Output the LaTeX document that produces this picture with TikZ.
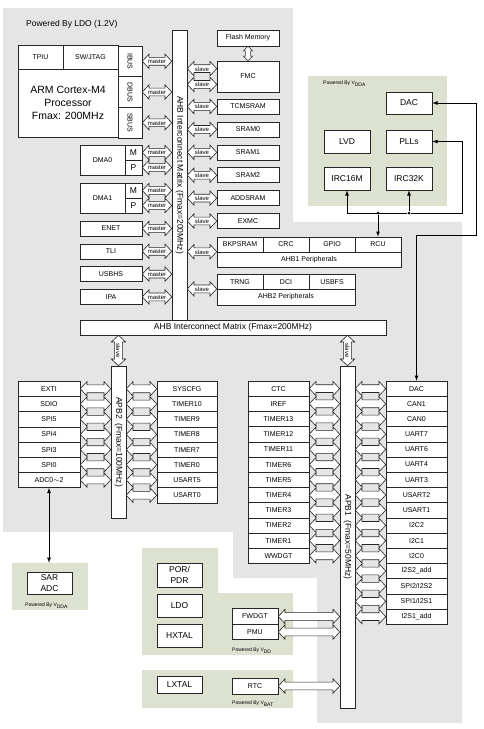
\documentclass[tikz,border=0pt]{standalone}
\usepackage{fontspec}
\setmainfont{Liberation Sans}
\usetikzlibrary{calc,positioning,shapes.arrows}
\definecolor{ldogray}{RGB}{229,229,229}
\definecolor{pwrgreen}{RGB}{221,225,207}
\newcommand{\Vsub}[1]{V\textsubscript{#1}}
\newcommand{\fsz}[2]{\fontsize{#1}{#2}\selectfont}
\tikzset{
  blk/.style={draw=black!85, line width=0.6pt, fill=white, inner sep=0pt, align=center, font=\fsz{7}{8.4}},
  bigblk/.style={blk, font=\fsz{8.5}{10.5}},
  bus/.style={double arrow, draw=black!85, line width=0.6pt, fill=white, inner xsep=0.3pt, inner ysep=1.2pt,
    text height=4.8pt, text depth=0pt, double arrow head extend=3.3pt, double arrow tip angle=94, font=\fsz{6}{6}},
  fat/.style={to path={let \p1=(\tikztostart), \p2=(\tikztotarget),
    \n1={veclen(\x2-(\x1),\y2-(\y1))}, \n2={atan2(\y2-(\y1),\x2-(\x1))} in
    node[bus, minimum height=\n1, rotate=\n2] at ($(\p1)!.5!(\p2)$) {#1}}},
  fat/.default={},
  pwrnote/.style={inner sep=0pt, font=\fsz{5}{6}},
  wire/.style={line width=0.8pt},
  dot/.style={circle, fill, inner sep=0pt, minimum size=3pt},
}
\begin{document}
\begin{tikzpicture}[x=1pt,y=-1pt]
  \useasboundingbox (0,0) rectangle (483,729);
  \fill[ldogray] (3,8) -- (293,8) -- (293,222) -- (462,222) -- (462,723) -- (317,723)
    -- (317,578) -- (233,578) -- (233,532) -- (3,532) -- cycle;
  \fill[pwrgreen] (308,76) rectangle (447,206);
  \fill[pwrgreen] (142,548) -- (218,548) -- (218,593) -- (293,593) -- (293,655) -- (142,655) -- cycle;
  \fill[pwrgreen] (142,670) rectangle (293,708);
  \node[fill=pwrgreen, minimum width=76pt, minimum height=47pt, inner sep=0pt] (SARreg) at (50,586.5) {};

  \node[anchor=west, inner sep=0pt, font=\fsz{8.5}{10}] (LDOnote) at (26,24) {Powered By LDO (1.2V)};
  \node[blk, minimum width=45pt, minimum height=24pt] (TPIU) at (40.5,57) {TPIU};
  \node[blk, minimum width=55pt, minimum height=24pt] (SWJ) at (90.5,57) {SW/JTAG};
  \node[blk, minimum width=100pt, minimum height=68pt, font=\fsz{10.5}{13}] (Core) at (68,103) {ARM Cortex-M4\\Processor\\Fmax: 200MHz};
  \node[blk, minimum width=24pt, minimum height=30.7pt] (IBus) at (130,61.3) {\rotatebox{-90}{IBUS}};
  \node[blk, minimum width=24pt, minimum height=30.7pt] (DBus) at (130,92) {\rotatebox{-90}{DBUS}};
  \node[blk, minimum width=24pt, minimum height=30.7pt] (SBus) at (130,122.7) {\rotatebox{-90}{SBUS}};

  \node[blk, minimum width=45pt, minimum height=30pt] (DMA0) at (102.5,160) {DMA0};
  \node[bigblk, minimum width=17pt, minimum height=15pt] (DMA0M) at (133.5,152.5) {M};
  \node[bigblk, minimum width=17pt, minimum height=15pt] (DMA0P) at (133.5,167.5) {P};
  \node[blk, minimum width=45pt, minimum height=30pt] (DMA1) at (102.5,198) {DMA1};
  \node[bigblk, minimum width=17pt, minimum height=15pt] (DMA1M) at (133.5,190.5) {M};
  \node[bigblk, minimum width=17pt, minimum height=15pt] (DMA1P) at (133.5,205.5) {P};
  \node[blk, minimum width=62pt, minimum height=15pt] (ENET) at (111,228.5) {ENET};
  \node[blk, minimum width=62pt, minimum height=15pt] (TLI) at (111,251.3) {TLI};
  \node[blk, minimum width=62pt, minimum height=15pt] (USBHS) at (111,274.1) {USBHS};
  \node[blk, minimum width=62pt, minimum height=15pt] (IPA) at (111,296.9) {IPA};

  \node[bigblk, minimum width=15pt, minimum height=290pt] (AHBv) at (179.5,175) {\rotatebox{-90}{AHB Interconnect Matrix (Fmax=200MHz)}};
  \node[bigblk, minimum width=306pt, minimum height=15pt] (AHBh) at (233,327.5) {AHB Interconnect Matrix (Fmax=200MHz)};

  \node[blk, minimum width=62pt, minimum height=16pt] (Flash) at (248,38) {Flash Memory};
  \node[blk, minimum width=62pt, minimum height=31pt] (FMC) at (248,76.5) {FMC};
  \node[blk, minimum width=62pt, minimum height=15pt] (TCM) at (248,106.5) {TCMSRAM};
  \node[blk, minimum width=62pt, minimum height=15pt] (SRAM0) at (248,129.4) {SRAM0};
  \node[blk, minimum width=62pt, minimum height=15pt] (SRAM1) at (248,152.3) {SRAM1};
  \node[blk, minimum width=62pt, minimum height=15pt] (SRAM2) at (248,175.2) {SRAM2};
  \node[blk, minimum width=62pt, minimum height=15pt] (ADDSRAM) at (248,198.1) {ADDSRAM};
  \node[blk, minimum width=62pt, minimum height=15pt] (EXMC) at (248,221) {EXMC};
  \node[blk, minimum width=46pt, minimum height=15pt] (BKP) at (240,244.5) {BKPSRAM};
  \node[blk, minimum width=46pt, minimum height=15pt] (CRC) at (286,244.5) {CRC};
  \node[blk, minimum width=46pt, minimum height=15pt] (GPIO) at (332,244.5) {GPIO};
  \node[blk, minimum width=46pt, minimum height=15pt] (RCU) at (378,244.5) {RCU};
  \node[blk, minimum width=184pt, minimum height=15pt] (AHB1) at (309,259.5) {AHB1 Peripherals};
  \node[blk, minimum width=46pt, minimum height=15pt] (TRNG) at (240,281.7) {TRNG};
  \node[blk, minimum width=46pt, minimum height=15pt] (DCI) at (286,281.7) {DCI};
  \node[blk, minimum width=46pt, minimum height=15pt] (USBFS) at (332,281.7) {USBFS};
  \node[blk, minimum width=138pt, minimum height=15.6pt] (AHB2) at (286,297) {AHB2 Peripherals};
  \coordinate (FMCa) at ($(FMC.west)!.5!(FMC.north west)$);
  \coordinate (FMCb) at ($(FMC.west)!.5!(FMC.south west)$);

  \node[pwrnote, anchor=west] (VDDAnote) at (323,84) {Powered By \Vsub{DDA}};
  \node[bigblk, minimum width=46pt, minimum height=22pt] (DACa) at (409,103) {DAC};
  \node[bigblk, minimum width=46pt, minimum height=23pt] (LVD) at (347,141.5) {LVD};
  \node[bigblk, minimum width=46pt, minimum height=23pt] (PLL) at (409,141.5) {PLLs};
  \node[bigblk, minimum width=46pt, minimum height=23pt] (IRC16) at (347,178.5) {IRC16M};
  \node[bigblk, minimum width=46pt, minimum height=23pt] (IRC32) at (409,178.5) {IRC32K};

  \node[bigblk, minimum width=15pt, minimum height=152pt] (APB2) at (118.5,442) {\rotatebox{-90}{APB2\ \ (Fmax=100MHz)}};
  \foreach \txt [count=\i] in {EXTI,SDIO,SPI5,SPI4,SPI3,SPI0,ADC0$\sim$2}
    \node[blk, minimum width=62pt, minimum height=15.2pt] (Lb\i) at (49,373.6+15.2*\i) {\txt};
  \foreach \txt [count=\i] in {SYSCFG,TIMER10,TIMER9,TIMER8,TIMER7,TIMER0,USART5,USART0}
    \node[blk, minimum width=60pt, minimum height=15.2pt] (Rb\i) at (187,373.6+15.2*\i) {\txt};

  \node[bigblk, minimum width=45pt, minimum height=22pt] (SAR) at (49.5,583) {SAR\\ADC};
  \node[pwrnote, anchor=west] (SARnote) at (25,605.5) {Powered By \Vsub{DDA}};

  \node[bigblk, minimum width=15pt, minimum height=342pt] (APB1) at (347.5,537) {\rotatebox{-90}{APB1\ \ (Fmax=50MHz)}};
  \foreach \txt [count=\i] in {CTC,IREF,TIMER13,TIMER12,TIMER11,TIMER6,TIMER5,TIMER4,TIMER3,TIMER2,TIMER1,WWDGT}
    \node[blk, minimum width=61pt, minimum height=15.2pt] (Ll\i) at (278.5,373.4+15.2*\i) {\txt};
  \foreach \txt [count=\i] in {DAC,CAN1,CAN0,UART7,UART6,UART4,UART3,USART2,USART1,I2C2,I2C1,I2C0,I2S2\_add,SPI2/I2S2,SPI1/I2S1,I2S1\_add}
    \node[blk, minimum width=61pt, minimum height=15.2pt] (Rr\i) at (416.5,373.4+15.2*\i) {\txt};

  \node[bigblk, minimum width=45pt, minimum height=24pt] (POR) at (179.5,575) {POR/\\PDR};
  \node[bigblk, minimum width=45pt, minimum height=23pt] (LDO) at (179.5,605.5) {LDO};
  \node[bigblk, minimum width=45pt, minimum height=23pt] (HXTAL) at (179.5,635.5) {HXTAL};
  \node[blk, minimum width=46pt, minimum height=15.5pt] (FWDGT) at (255,616.5) {FWDGT};
  \node[blk, minimum width=46pt, minimum height=15.5pt] (PMU) at (255,632) {PMU};
  \node[pwrnote, anchor=west] (VDDnote) at (232,650.5) {Powered By \Vsub{DD}};
  \node[bigblk, minimum width=45pt, minimum height=17pt] (LXTAL) at (179.5,684.5) {LXTAL};
  \node[blk, minimum width=46pt, minimum height=16pt] (RTC) at (255,686) {RTC};
  \node[pwrnote, anchor=west] (VBATnote) at (232,703.5) {Powered By \Vsub{BAT}};

  \path (IBus.east) edge[fat=master] (IBus.east -| AHBv.west)
    (DBus.east) edge[fat=master] (DBus.east -| AHBv.west)
    (SBus.east) edge[fat=master] (SBus.east -| AHBv.west)
    (DMA0M.east) edge[fat=master] (DMA0M.east -| AHBv.west)
    (DMA0P.east) edge[fat=master] (DMA0P.east -| AHBv.west)
    (DMA1M.east) edge[fat=master] (DMA1M.east -| AHBv.west)
    (DMA1P.east) edge[fat=master] (DMA1P.east -| AHBv.west)
    (ENET.east) edge[fat=master] (ENET.east -| AHBv.west)
    (TLI.east) edge[fat=master] (TLI.east -| AHBv.west)
    (USBHS.east) edge[fat=master] (USBHS.east -| AHBv.west)
    (IPA.east) edge[fat=master] (IPA.east -| AHBv.west);
  \path (AHBv.east |- FMCa) edge[fat=slave] (FMCa)
    (AHBv.east |- FMCb) edge[fat=slave] (FMCb)
    (AHBv.east |- TCM.west) edge[fat=slave] (TCM.west)
    (AHBv.east |- SRAM0.west) edge[fat=slave] (SRAM0.west)
    (AHBv.east |- SRAM1.west) edge[fat=slave] (SRAM1.west)
    (AHBv.east |- SRAM2.west) edge[fat=slave] (SRAM2.west)
    (AHBv.east |- ADDSRAM.west) edge[fat=slave] (ADDSRAM.west)
    (AHBv.east |- EXMC.west) edge[fat=slave] (EXMC.west)
    (AHBv.east |- AHB1.north west) edge[fat=slave] (AHB1.north west)
    (AHBv.east |- AHB2.north west) edge[fat=slave] (AHB2.north west)
    (Flash.south) edge[fat, bus/.append style={text height=2.6pt, inner ysep=1pt, double arrow head extend=2pt, double arrow tip angle=90}] (FMC.north)
    (AHBh.south -| APB2.north) edge[fat=slave] (APB2.north)
    (AHBh.south -| APB1.north) edge[fat=slave] (APB1.north);
  \foreach \i in {1,...,7}
    \path (Lb\i.east) edge[fat] (Lb\i.east -| APB2.west);
  \foreach \i in {1,...,8}
    \path (APB2.east |- Rb\i.west) edge[fat] (Rb\i.west);
  \foreach \i in {1,...,12}
    \path (Ll\i.east) edge[fat] (Ll\i.east -| APB1.west);
  \foreach \i in {1,...,16}
    \path (APB1.east |- Rr\i.west) edge[fat] (Rr\i.west);
  \path (FWDGT.east) edge[fat] (FWDGT.east -| APB1.west)
    (PMU.east) edge[fat] (PMU.east -| APB1.west)
    (RTC.east) edge[fat] (RTC.east -| APB1.west);

  \node[dot] (J1) at (RCU.north |- 0,213) {};
  \node[dot] (J2) at (IRC32.south |- J1) {};
  \coordinate (Jr) at (462,213);
  \coordinate (DACbend) at (476,235);
  \draw[wire, -latex] (J1) -- (RCU.north);
  \draw[wire, -latex] (J2) -- (IRC32.south);
  \draw[wire, -latex] (J2) -| (IRC16.south);
  \draw[wire, -latex] (J2) -- (Jr) |- (PLL.east);
  \draw[wire, latex-latex] (DACa.east) -| (DACbend) -| (Rr1.north);
  \draw[wire, latex-latex] (Lb7.south) -- (Lb7.south |- SARreg.north);
\end{tikzpicture}
\end{document}
